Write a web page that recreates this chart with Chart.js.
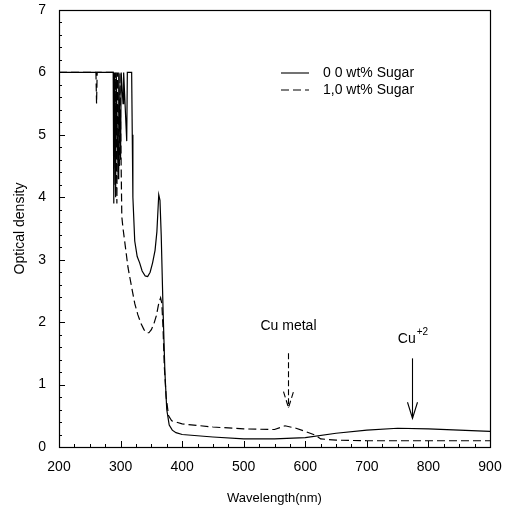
<!DOCTYPE html>
<html>
<head>
<meta charset="utf-8">
<script src="https://cdn.jsdelivr.net/npm/chart.js@4.4.1/dist/chart.umd.min.js"></script>
<style>
  html, body { margin: 0; padding: 0; background: #fff; }
  canvas { display: block; }
</style>
</head>
<body>
<canvas id="odChart" width="508" height="507"></canvas>
<script>
// Absorption spectra: wavelength (nm) vs optical density
const wlPure = [200, 288, 289, 290, 292, 293, 296, 297, 300, 301, 304, 305, 310, 311, 318, 319, 320, 323, 327, 331, 335, 340, 344, 348, 352, 356, 359, 362, 364, 366, 369, 372, 375, 379, 384, 390, 400, 450, 500, 550, 600, 650, 700, 750, 800, 850, 900];
const odPure = [6, 6, 3.9, 6, 4.0, 6, 4.3, 6, 4.6, 6, 5.5, 6, 4.9, 6, 6, 5.0, 4.0, 3.3, 3.05, 2.95, 2.82, 2.74, 2.73, 2.8, 2.95, 3.15, 3.45, 4.04, 3.95, 3.4, 2.2, 1.2, 0.6, 0.35, 0.27, 0.23, 0.2, 0.16, 0.13, 0.13, 0.15, 0.22, 0.27, 0.3, 0.29, 0.27, 0.25];

const wlSugar = [200, 260, 261, 262, 290, 291, 292, 294, 295, 298, 299, 302, 304, 307, 312, 318, 323, 328, 333, 338, 342, 346, 350, 354, 358, 362, 365, 367, 369, 371, 374, 378, 383, 390, 400, 450, 500, 550, 567, 585, 600, 616, 625, 650, 700, 800, 900];
const odSugar = [6, 6, 5.5, 6, 6, 4.2, 6, 3.9, 6, 4.5, 6, 3.69, 3.5, 3.27, 2.88, 2.56, 2.3, 2.12, 1.98, 1.88, 1.83, 1.83, 1.88, 1.97, 2.1, 2.3, 2.39, 2.3, 1.9, 1.3, 0.8, 0.5, 0.42, 0.4, 0.37, 0.32, 0.29, 0.28, 0.34, 0.3, 0.25, 0.19, 0.13, 0.11, 0.1, 0.1, 0.1];

const seriesNames = ['0 0 wt% Sugar', '1,0 wt% Sugar'];

// Peak assignments: label, wavelength, arrow start OD, arrow tip OD, label OD
const markerNames = ['Cu metal', 'Cu'];
const markerSup = ['', '+2'];
const markerWl = [572, 773];
const markerFrom = [1.5, 1.42];
const markerTo = [0.63, 0.46];
const markerTextOd = [1.93, 1.72];
const markerDashed = [true, false];

const FONT = '"Liberation Sans", Arial, sans-serif';

function toPoints(xs, ys) {
    return xs.map((x, i) => ({ x: x, y: ys[i] }));
}

// Inward tick marks and closed frame around the plot
const frameTicks = {
    id: 'frameTicks',
    afterDraw(chart) {
        const { ctx, chartArea: a, scales } = chart;
        ctx.save();
        ctx.strokeStyle = '#000';
        ctx.lineWidth = 1.2;
        ctx.strokeRect(a.left + 0.5, a.top + 0.5, a.right - a.left, a.bottom - a.top);
        ctx.lineWidth = 1;
        ctx.beginPath();
        for (let v = 200; v <= 900; v += 25) {
            const px = Math.round(scales.x.getPixelForValue(v)) + 0.5;
            const len = v % 100 === 0 ? 6 : 3;
            ctx.moveTo(px, a.bottom);
            ctx.lineTo(px, a.bottom - len);
        }
        for (let i = 0; i <= 35; i++) {
            const v = i * 0.2;
            const py = Math.round(scales.y.getPixelForValue(v)) + 0.5;
            const len = i % 5 === 0 ? 6 : 3;
            ctx.moveTo(a.left, py);
            ctx.lineTo(a.left + len, py);
        }
        ctx.stroke();
        ctx.restore();
    }
};

// Legend box in the upper right of the plot
const innerLegend = {
    id: 'innerLegend',
    afterDraw(chart) {
        const { ctx, chartArea: a } = chart;
        ctx.save();
        ctx.font = '14px ' + FONT;
        ctx.fillStyle = '#000';
        ctx.textBaseline = 'middle';
        chart.data.datasets.forEach((ds, i) => {
            const y = a.top + 63 + i * 17;
            ctx.beginPath();
            ctx.setLineDash(ds.borderDash || []);
            ctx.lineWidth = 1.1;
            ctx.strokeStyle = '#000';
            ctx.moveTo(a.left + 222, y);
            ctx.lineTo(a.left + 250, y);
            ctx.stroke();
            ctx.setLineDash([]);
            ctx.fillText(ds.label, a.left + 264, y);
        });
        ctx.restore();
    }
};

// Labelled arrows pointing at the Cu bands
const peakMarkers = {
    id: 'peakMarkers',
    afterDraw(chart) {
        const { ctx, scales } = chart;
        ctx.save();
        ctx.fillStyle = '#000';
        ctx.strokeStyle = '#000';
        ctx.lineWidth = 1.1;
        markerNames.forEach((name, i) => {
            const x = Math.round(scales.x.getPixelForValue(markerWl[i])) + 0.5;
            const y0 = scales.y.getPixelForValue(markerFrom[i]);
            const y1 = scales.y.getPixelForValue(markerTo[i]);
            ctx.setLineDash(markerDashed[i] ? [6, 3] : []);
            ctx.beginPath();
            ctx.moveTo(x, y0);
            ctx.lineTo(x, y1);
            ctx.stroke();
            ctx.beginPath();
            ctx.moveTo(x - 5, y1 - 16);
            ctx.lineTo(x, y1);
            ctx.lineTo(x + 5, y1 - 16);
            ctx.stroke();
            ctx.setLineDash([]);

            const ty = scales.y.getPixelForValue(markerTextOd[i]);
            ctx.font = '14px ' + FONT;
            ctx.textBaseline = 'middle';
            const w = ctx.measureText(name).width;
            ctx.font = '10px ' + FONT;
            const ws = markerSup[i] ? ctx.measureText(markerSup[i]).width : 0;
            const tx = x - (w + ws) / 2;
            ctx.font = '14px ' + FONT;
            ctx.fillText(name, tx, ty);
            if (markerSup[i]) {
                ctx.font = '10px ' + FONT;
                ctx.fillText(markerSup[i], tx + w + 1, ty - 7);
            }
        });
        ctx.restore();
    }
};

const ctx = document.getElementById('odChart').getContext('2d');
const odChart = new Chart(ctx, {
    type: 'scatter',
    data: {
        datasets: [
            {
                label: seriesNames[0],
                data: toPoints(wlPure, odPure),
                showLine: true,
                borderColor: '#000',
                borderWidth: 1.2,
                pointRadius: 0,
                tension: 0
            },
            {
                label: seriesNames[1],
                data: toPoints(wlSugar, odSugar),
                showLine: true,
                borderColor: '#000',
                borderWidth: 1.2,
                borderDash: [8, 4],
                pointRadius: 0,
                tension: 0
            }
        ]
    },
    options: {
        responsive: false,
        animation: false,
        layout: { padding: { top: 10, right: 18, left: 0, bottom: 0 } },
        plugins: {
            legend: { display: false },
            tooltip: { enabled: false }
        },
        scales: {
            x: {
                type: 'linear',
                min: 200,
                max: 900,
                grid: { display: false, drawTicks: false },
                border: { display: false },
                ticks: {
                    stepSize: 100,
                    padding: 12,
                    color: '#000',
                    font: { family: FONT, size: 14 },
                    maxRotation: 0
                },
                title: {
                    display: true,
                    text: 'Wavelength(nm)',
                    color: '#000',
                    font: { family: FONT, size: 13 },
                    padding: { top: 10, bottom: 1 }
                },
                afterFit(scale) {
                    scale.height = 60;
                    scale.paddingLeft = 0;
                    scale.paddingRight = 0;
                }
            },
            y: {
                min: 0,
                max: 7,
                grid: { display: false, drawTicks: false },
                border: { display: false },
                ticks: {
                    stepSize: 1,
                    padding: 13,
                    color: '#000',
                    font: { family: FONT, size: 14 }
                },
                title: {
                    display: true,
                    text: 'Optical density',
                    color: '#000',
                    font: { family: FONT, size: 14 },
                    padding: { top: 12, bottom: 0 }
                },
                afterFit(scale) {
                    scale.width = 59;
                    scale.paddingTop = 0;
                    scale.paddingBottom = 0;
                }
            }
        }
    },
    plugins: [frameTicks, innerLegend, peakMarkers]
});
</script>
</body>
</html>
